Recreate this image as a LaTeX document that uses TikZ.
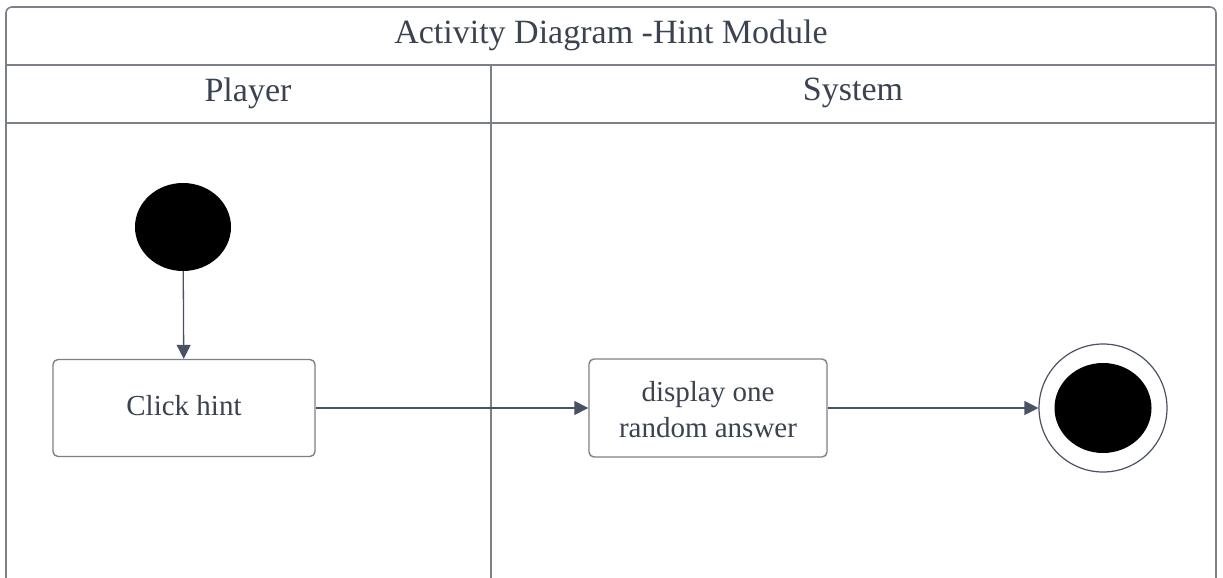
\documentclass[tikz,border=0pt]{standalone}
\usepackage{fontspec}
\setmainfont{Liberation Serif}
\usetikzlibrary{arrows.meta,shapes.geometric}
\definecolor{framegray}{HTML}{7C8189}
\definecolor{linegray}{HTML}{4A5261}
\definecolor{textgray}{HTML}{3B4250}
\tikzset{
  frameline/.style={draw=framegray, line width=1.6pt},
  action/.style={draw=framegray, line width=1.4pt, rounded corners=5pt,
    fill=white, text=textgray, align=center, inner sep=0pt,
    font=\fontsize{29}{36}\selectfont},
  lanelabel/.style={text=textgray, font=\fontsize{34}{40}\selectfont, inner sep=0pt},
  flow/.style={draw=linegray, line width=1.3pt,
    -{Triangle[length=14pt,width=14pt]}},
  startdot/.style={ellipse, fill=black, draw=none, inner sep=0pt,
    minimum width=96pt, minimum height=88pt},
}
\begin{document}
\begin{tikzpicture}[x=1pt,y=-1pt]
  \useasboundingbox (0,0) rectangle (1223,578);
  % swimlane frame
  \draw[frameline, rounded corners=6pt] (6,590) -- (6,7) -- (1216,7) -- (1216,590);
  \draw[frameline] (6,65) -- (1216,65);
  \draw[frameline] (6,123) -- (1216,123);
  \draw[frameline] (491,65) -- (491,590);
  % headings
  \node[lanelabel] (title) at (611,35) {Activity Diagram -Hint Module};
  \node[lanelabel] (player) at (248,93) {Player};
  \node[lanelabel] (system) at (853,93) {System};
  % activity nodes
  \node[startdot] (start) at (183,227) {};
  \node[action, minimum width=262pt, minimum height=97pt] (click) at (184,408) {};
  \node[text=textgray, font=\fontsize{29}{36}\selectfont, inner sep=0pt] (clicktext) at (184,406) {Click hint};
  \node[action, minimum width=238pt, minimum height=98pt] (show) at (708,408) {};
  \node[text=textgray, align=center, font=\fontsize{29}{36}\selectfont, inner sep=0pt] (showtext) at (708,410) {display one\\random answer};
  \node[circle, draw=linegray, line width=1.2pt, fill=white, minimum size=128pt, inner sep=0pt] (final) at (1103,408) {};
  \node[startdot, minimum width=97pt, minimum height=90pt] (finaldot) at (final.center) {};
  % control flows
  \draw[flow] (start) -- (click);
  \draw[flow] (click) -- (show);
  \draw[flow] (show) -- (final);
\end{tikzpicture}
\end{document}
